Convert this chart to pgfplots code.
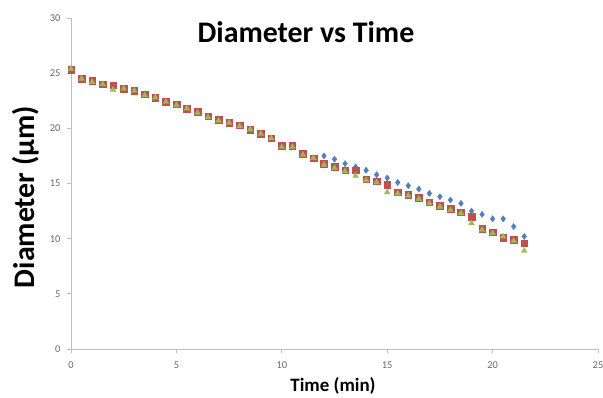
\documentclass[border=0pt]{standalone}
\usepackage{fontspec}
\setmainfont{Carlito}
\usepackage{pgfplots}
\usepackage{pgfplotstable}
\pgfplotsset{compat=1.18}
\definecolor{sA}{HTML}{4F81BD}
\definecolor{sB}{HTML}{C0504D}
\definecolor{sC}{HTML}{9BBB59}
\definecolor{axgray}{HTML}{BFBFBF}
\definecolor{tickgray}{HTML}{6A6A6A}
\pgfplotstableread{
x y
0 25.3
0.5 24.5
1 24.3
1.5 24.0
2 23.8
2.5 23.6
3 23.4
3.5 23.1
4 22.8
4.5 22.4
5 22.2
5.5 21.8
6 21.5
6.5 21.1
7 20.8
7.5 20.5
8 20.3
8.5 19.9
9 19.5
9.5 19.1
10 18.4
10.5 18.4
11 17.7
11.5 17.3
12 17.5
12.5 17.2
13 16.8
13.5 16.5
14 16.2
14.5 15.8
15 15.5
15.5 15.1
16 14.8
16.5 14.5
17 14.1
17.5 13.8
18 13.5
18.5 13.2
19 12.5
19.5 12.2
20 11.8
20.5 11.8
21 11.1
21.5 10.2
}\seriesA
\pgfplotstableread{
x y
0 25.3
0.5 24.5
1 24.3
1.5 24.0
2 23.9
2.5 23.6
3 23.4
3.5 23.1
4 22.8
4.5 22.4
5 22.2
5.5 21.8
6 21.5
6.5 21.1
7 20.8
7.5 20.5
8 20.3
8.5 19.9
9 19.5
9.5 19.1
10 18.4
10.5 18.4
11 17.7
11.5 17.3
12 16.8
12.5 16.5
13 16.2
13.5 16.2
14 15.4
14.5 15.2
15 14.9
15.5 14.2
16 14.0
16.5 13.7
17 13.3
17.5 13.0
18 12.7
18.5 12.4
19 12.0
19.5 10.9
20 10.6
20.5 10.1
21 9.9
21.5 9.6
}\seriesB
\pgfplotstableread{
x y
0 25.4
0.5 24.5
1 24.2
1.5 24.0
2 23.5
2.5 23.6
3 23.4
3.5 23.0
4 22.8
4.5 22.4
5 22.1
5.5 21.8
6 21.4
6.5 21.0
7 20.7
7.5 20.5
8 20.2
8.5 19.9
9 19.5
9.5 19.1
10 18.3
10.5 18.3
11 17.6
11.5 17.3
12 16.7
12.5 16.4
13 16.1
13.5 15.7
14 15.3
14.5 15.1
15 14.2
15.5 14.1
16 13.9
16.5 13.6
17 13.2
17.5 12.9
18 12.6
18.5 12.3
19 11.4
19.5 10.8
20 10.5
20.5 10.2
21 9.8
21.5 8.9
}\seriesC
\begin{document}
\begin{tikzpicture}
\useasboundingbox (0,0) rectangle (603bp,398bp);
\begin{axis}[
  at={(71bp,49bp)}, anchor=south west,
  scale only axis, width=527bp, height=331bp,
  xmin=0, xmax=25, ymin=0, ymax=30,
  xtick={0,5,...,25}, ytick={0,5,...,30},
  axis x line*=bottom, axis y line*=left,
  axis line style={draw=axgray, line width=1pt, -},
  tick style={draw=axgray, line width=0.8pt},
  tick align=outside, major tick length=4bp,
  xtick pos=bottom, ytick pos=left,
  /pgf/number format/assume math mode=true,
  tick label style={font=\fontsize{10.5}{10.5}\selectfont, text=tickgray},
  y tick label style={xshift=-3bp},
  x tick label style={yshift=-5bp},
  clip=false,
]
\addplot[only marks, mark=diamond*, mark size=3.1bp, color=sA] table[x=x,y=y] {\seriesA};
\addplot[only marks, mark=square*, mark size=3.3bp, color=sB] table[x=x,y=y] {\seriesB};
\addplot[only marks, mark=triangle*, mark size=3.3bp, color=sC] table[x=x,y=y] {\seriesC};
\end{axis}
\node[anchor=base, font=\fontsize{30}{30}\selectfont\bfseries] at (306bp,355bp) {Diameter vs Time};
\node[rotate=90, font=\fontsize{30}{30}\selectfont\bfseries] at (26bp,201bp) {Diameter (µm)};
\node[font=\fontsize{19}{19}\selectfont\bfseries] at (333bp,12.5bp) {Time (min)};
\end{tikzpicture}
\end{document}
